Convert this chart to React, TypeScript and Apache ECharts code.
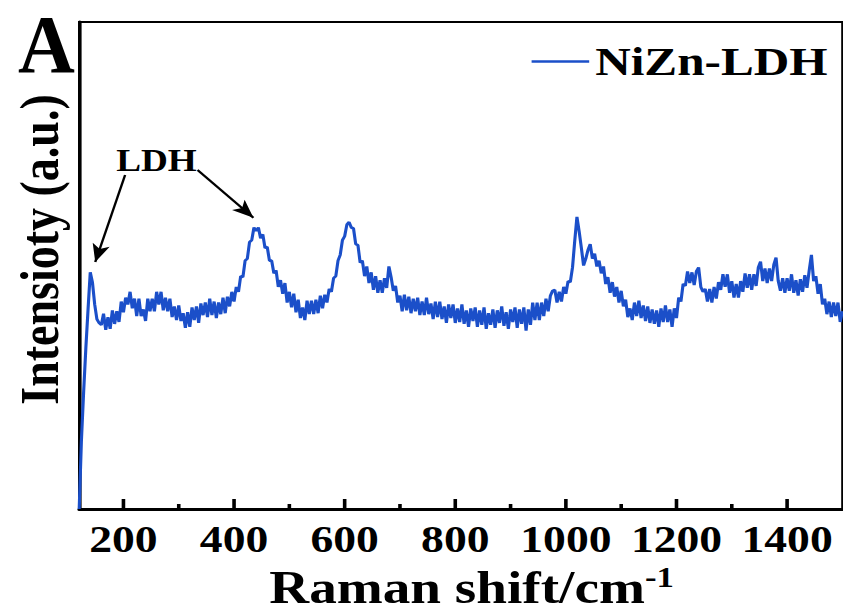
import React, { useEffect, useRef } from "react";
import * as echarts from "echarts";

// ---------- data ----------
const seriesName = "NiZn-LDH";
const xTitle = "Raman shift/cm";
const xTitleSup = "-1";
const yTitle = "Intensioty (a.u.)";
const panelLabel = "A";
const peakLabel = "LDH";
const majorTicks = [200, 400, 600, 800, 1000, 1200, 1400];
const minorTicks = [300, 500, 700, 900, 1100, 1300];
const xMin = 120;
const xMax = 1500;
const yMin = 0;
const yMax = 100;

// Raman shift (cm^-1)
const ramanShift: number[] = [
  120, 124, 128, 132, 136, 140, 144, 148, 152, 156,
  160, 164, 168, 172, 176, 180, 184, 188, 192, 196, 200, 204, 208, 212, 216, 220, 224, 228, 232, 236,
  240, 244, 248, 252, 256, 260, 264, 268, 272, 276, 280, 284, 288, 292, 296, 300, 304, 308, 312, 316,
  320, 324, 328, 332, 336, 340, 344, 348, 352, 356, 360, 364, 368, 372, 376, 380, 384, 388, 392, 396,
  400, 404, 408, 412, 416, 420, 424, 428, 432, 436, 440, 444, 448, 452, 456, 460, 464, 468, 472, 476,
  480, 484, 488, 492, 496, 500, 504, 508, 512, 516, 520, 524, 528, 532, 536, 540, 544, 548, 552, 556,
  560, 564, 568, 572, 576, 580, 584, 588, 592, 596, 600, 604, 608, 612, 616, 620, 624, 628, 632, 636,
  640, 644, 648, 652, 656, 660, 664, 668, 672, 676, 680, 684, 688, 692, 696, 700, 704, 708, 712, 716,
  720, 724, 728, 732, 736, 740, 744, 748, 752, 756, 760, 764, 768, 772, 776, 780, 784, 788, 792, 796,
  800, 804, 808, 812, 816, 820, 824, 828, 832, 836, 840, 844, 848, 852, 856, 860, 864, 868, 872, 876,
  880, 884, 888, 892, 896, 900, 904, 908, 912, 916, 920, 924, 928, 932, 936, 940, 944, 948, 952, 956,
  960, 964, 968, 972, 976, 980, 984, 988, 992, 996, 1000, 1004, 1008, 1012, 1016, 1020, 1024, 1028, 1032, 1036,
  1040, 1044, 1048, 1052, 1056, 1060, 1064, 1068, 1072, 1076, 1080, 1084, 1088, 1092, 1096, 1100, 1104, 1108, 1112, 1116,
  1120, 1124, 1128, 1132, 1136, 1140, 1144, 1148, 1152, 1156, 1160, 1164, 1168, 1172, 1176, 1180, 1184, 1188, 1192, 1196,
  1200, 1204, 1208, 1212, 1216, 1220, 1224, 1228, 1232, 1236, 1240, 1244, 1248, 1252, 1256, 1260, 1264, 1268, 1272, 1276,
  1280, 1284, 1288, 1292, 1296, 1300, 1304, 1308, 1312, 1316, 1320, 1324, 1328, 1332, 1336, 1340, 1344, 1348, 1352, 1356,
  1360, 1364, 1368, 1372, 1376, 1380, 1384, 1388, 1392, 1396, 1400, 1404, 1408, 1412, 1416, 1420, 1424, 1428, 1432, 1436,
  1440, 1444, 1448, 1452, 1456, 1460, 1464, 1468, 1472, 1476, 1480, 1484, 1488, 1492, 1496, 1500,
];

// Intensity (a.u.)
const intensity: number[] = [
  0, 14, 24, 33, 41, 48.6, 46.5, 42, 39, 38.2,
  37.8, 40.1, 36.8, 39.4, 37.0, 40.8, 38.0, 40.6, 38.4, 42.6, 40.4, 43.4, 42.0, 44.6, 41.2, 43.2, 39.6, 43.2, 39.6, 41.0,
  38.6, 43.2, 40.6, 43.2, 40.6, 44.6, 42.0, 44.6, 40.8, 43.4, 40.6, 43.2, 39.4, 41.6, 38.8, 41.8, 38.6, 40.2, 37.2, 40.4,
  37.4, 41.4, 38.8, 41.6, 38.2, 42.2, 39.8, 42.4, 39.4, 43.2, 39.8, 42.6, 39.2, 42.4, 40.0, 43.4, 40.2, 43.6, 41.6, 44.6,
  42.6, 45.6, 44.6, 47.8, 47.6, 51.0, 51.4, 54.8, 55.2, 57.8, 57.1, 57.8, 55.6, 56.4, 53.6, 53.8, 51.0, 51.0, 48.4, 49.0,
  45.6, 47.0, 44.2, 46.4, 42.4, 44.6, 41.4, 44.2, 40.4, 43.0, 39.2, 41.4, 38.8, 42.8, 40.0, 42.8, 40.0, 43.0, 40.2, 43.8,
  41.2, 44.0, 42.4, 45.2, 44.6, 47.4, 47.8, 51.0, 52.2, 55.2, 56.0, 58.4, 58.9, 57.8, 57.6, 54.4, 54.2, 50.6, 51.0, 47.8,
  49.8, 46.4, 48.6, 45.0, 47.8, 44.4, 47.0, 44.4, 47.4, 45.4, 49.8, 47.6, 44.8, 45.8, 42.4, 43.8, 40.6, 44.0, 40.8, 43.6,
  40.2, 43.2, 40.6, 43.4, 39.8, 42.6, 39.8, 43.4, 40.0, 42.2, 39.0, 42.6, 39.4, 42.6, 39.0, 41.6, 38.2, 42.0, 39.2, 42.0,
  38.2, 41.2, 38.4, 42.0, 38.0, 40.8, 37.4, 41.2, 38.6, 41.4, 37.4, 40.8, 37.8, 41.4, 37.0, 40.2, 37.8, 41.0, 37.2, 40.8,
  38.2, 41.6, 37.6, 40.4, 37.0, 41.0, 38.4, 41.4, 37.2, 41.0, 38.0, 41.4, 36.6, 41.0, 37.8, 42.4, 38.8, 42.4, 38.8, 42.4,
  39.6, 43.2, 40.6, 43.8, 44.8, 45.0, 42.4, 44.6, 42.6, 45.6, 44.2, 46.8, 46.6, 49.6, 55.0, 60.0, 57.0, 53.6, 50.0, 51.4,
  53.2, 54.4, 51.4, 52.4, 49.8, 51.0, 48.4, 49.8, 46.2, 47.6, 44.4, 46.6, 43.6, 45.6, 42.4, 44.8, 41.6, 43.0, 39.4, 41.2,
  38.8, 42.4, 39.6, 42.8, 39.2, 41.8, 38.6, 41.6, 38.2, 41.0, 38.0, 40.8, 37.4, 41.2, 38.4, 41.8, 38.4, 41.0, 37.4, 41.2,
  39.2, 43.4, 42.6, 46.2, 45.8, 48.8, 46.4, 48.6, 46.0, 48.8, 49.6, 45.6, 44.6, 45.2, 42.6, 45.2, 42.4, 45.6, 43.2, 46.6,
  45.0, 48.2, 45.6, 48.2, 44.4, 46.8, 43.4, 46.2, 43.4, 46.8, 44.6, 48.4, 45.4, 48.2, 45.0, 48.2, 45.8, 49.6, 50.8, 46.8,
  49.4, 46.4, 49.4, 46.8, 50.2, 51.6, 46.8, 44.8, 47.4, 44.4, 47.4, 44.8, 48.2, 44.4, 47.0, 43.8, 47.2, 44.6, 48.0, 45.4,
  49.0, 52.2, 46.8, 47.8, 44.2, 46.2, 42.0, 43.2, 40.0, 42.6, 39.4, 42.4, 39.6, 42.4, 38.4, 40.6,
];

// arrows: [from, to] in data coordinates
const arrows: [[number, number], [number, number]][] = [
  [[203, 68.6], [149, 50.7]],
  [[334, 69.6], [435, 59.8]],
];

const FONT = "'Liberation Serif', 'Times New Roman', serif";
const STRETCH = 1.2;
const W = 843;
const H = 612;
const LINE_COLOR = "#1b4fc9";

export default function App() {
  const ref = useRef<HTMLDivElement>(null);
  useEffect(() => {
    if (!ref.current) return;
    const chart = echarts.init(ref.current, null, { renderer: "svg" });
    const spectrum = ramanShift.map((x, i) => [x, intensity[i]]);
    const textGraphics: any[] = [
      {
        id: "panel",
        type: "text",
        x: 38.75,
        y: 44,
        scaleX: 0.8,
        style: {
          text: panelLabel,
          fontFamily: FONT,
          fontSize: 82,
          lineHeight: 60,
          fontWeight: "bold",
          fill: "#000",
          textAlign: "center",
          textVerticalAlign: "middle",
        },
      },
      {
        id: "peak",
        type: "text",
        x: 130.4,
        y: 160,
        style: {
          text: peakLabel,
          fontFamily: FONT,
          fontSize: 31,
          fontWeight: "bold",
          fill: "#000",
          textAlign: "center",
          textVerticalAlign: "middle",
        },
      },
    ];
    const option: any = {
      animation: false,
      backgroundColor: "#fff",
      textStyle: { fontFamily: FONT, color: "#000" },
      grid: {
        left: 66,
        right: 1,
        top: 22,
        bottom: 103,
        show: true,
        borderColor: "#000",
        borderWidth: 2,
        outerBoundsMode: "none",
      },
      legend: {
        left: 438,
        top: 36,
        icon: "rect",
        itemWidth: 48,
        itemHeight: 2.5,
        itemGap: 10,
        textStyle: { fontFamily: FONT, fontSize: 41, fontWeight: "bold", color: "#000" },
        data: [seriesName],
      },
      xAxis: {
        type: "value",
        min: xMin,
        max: xMax,
        position: "bottom",
        name: `{a|${xTitle}}{b|${xTitleSup}}`,
        nameLocation: "middle",
        nameGap: 33,
        nameTextStyle: {
          padding: [0, 0, 0, 18],
          rich: {
            a: { fontFamily: FONT, fontSize: 46, fontWeight: "bold", color: "#000", lineHeight: 50 },
            b: { fontFamily: FONT, fontSize: 29, fontWeight: "bold", color: "#000", verticalAlign: "top", lineHeight: 29, padding: [0, 0, 60, 0] },
          },
        },
        splitLine: { show: false },
        axisLine: { show: true, lineStyle: { color: "#000", width: 3 } },
        axisTick: { show: false },
        axisLabel: {
          show: true,
          customValues: majorTicks,
          formatter: (v: number) => String(v),
          margin: 11,
          fontFamily: FONT,
          fontSize: 38,
          fontWeight: "bold",
          color: "#000",
        },
      },
      yAxis: {
        type: "value",
        min: yMin,
        max: yMax,
        name: yTitle,
        nameLocation: "middle",
        nameRotate: 90,
        nameGap: 10,
        nameTextStyle: { fontFamily: FONT, fontSize: 46, fontWeight: "bold", color: "#000", padding: [0, 0, 0, 32] },
        splitLine: { show: false },
        axisLine: { show: true, lineStyle: { color: "#000", width: 3 } },
        axisTick: { show: false },
        axisLabel: { show: false },
      },
      series: [
        {
          name: seriesName,
          type: "line",
          data: spectrum,
          symbol: "none",
          lineStyle: { color: LINE_COLOR, width: 2.6 },
          itemStyle: { color: LINE_COLOR },
          z: 3,
          markLine: {
            silent: true,
            symbol: ["none", "arrow"],
            symbolSize: [11, 18],
            lineStyle: { color: "#000", width: 2, type: "solid" },
            label: { show: false },
            emphasis: { disabled: true },
            data: arrows.map(([a, b]) => [{ coord: a }, { coord: b }]),
          },
        },
      ],
      graphic: textGraphics,
    };
    chart.setOption(option);

    // axis ticks (inside), positioned through the chart's own x scale
    const tickDefs = [
      ...majorTicks.map((v) => ({ v, len: 10 })),
      ...minorTicks.map((v) => ({ v, len: 5 })),
    ];
    const tickGraphics = tickDefs.map(({ v, len }, i) => {
      const p = chart.convertToPixel({ gridIndex: 0 }, [v, yMin]) as number[];
      return {
        id: `tick${i}`,
        type: "line",
        z: 100,
        shape: { x1: p[0], y1: p[1], x2: p[0], y2: p[1] - len },
        style: { stroke: "#000", lineWidth: 3 },
      };
    });
    chart.setOption({ graphic: [...textGraphics, ...tickGraphics] });
    return () => chart.dispose();
  }, []);
  return (
    <div style={{ position: "fixed", left: 0, top: 0, width: W, height: H, overflow: "hidden", background: "#fff" }}>
      <div
        ref={ref}
        style={{ width: Math.round(W / STRETCH), height: H, transform: `scaleX(${STRETCH})`, transformOrigin: "0 0" }}
      />
    </div>
  );
}
